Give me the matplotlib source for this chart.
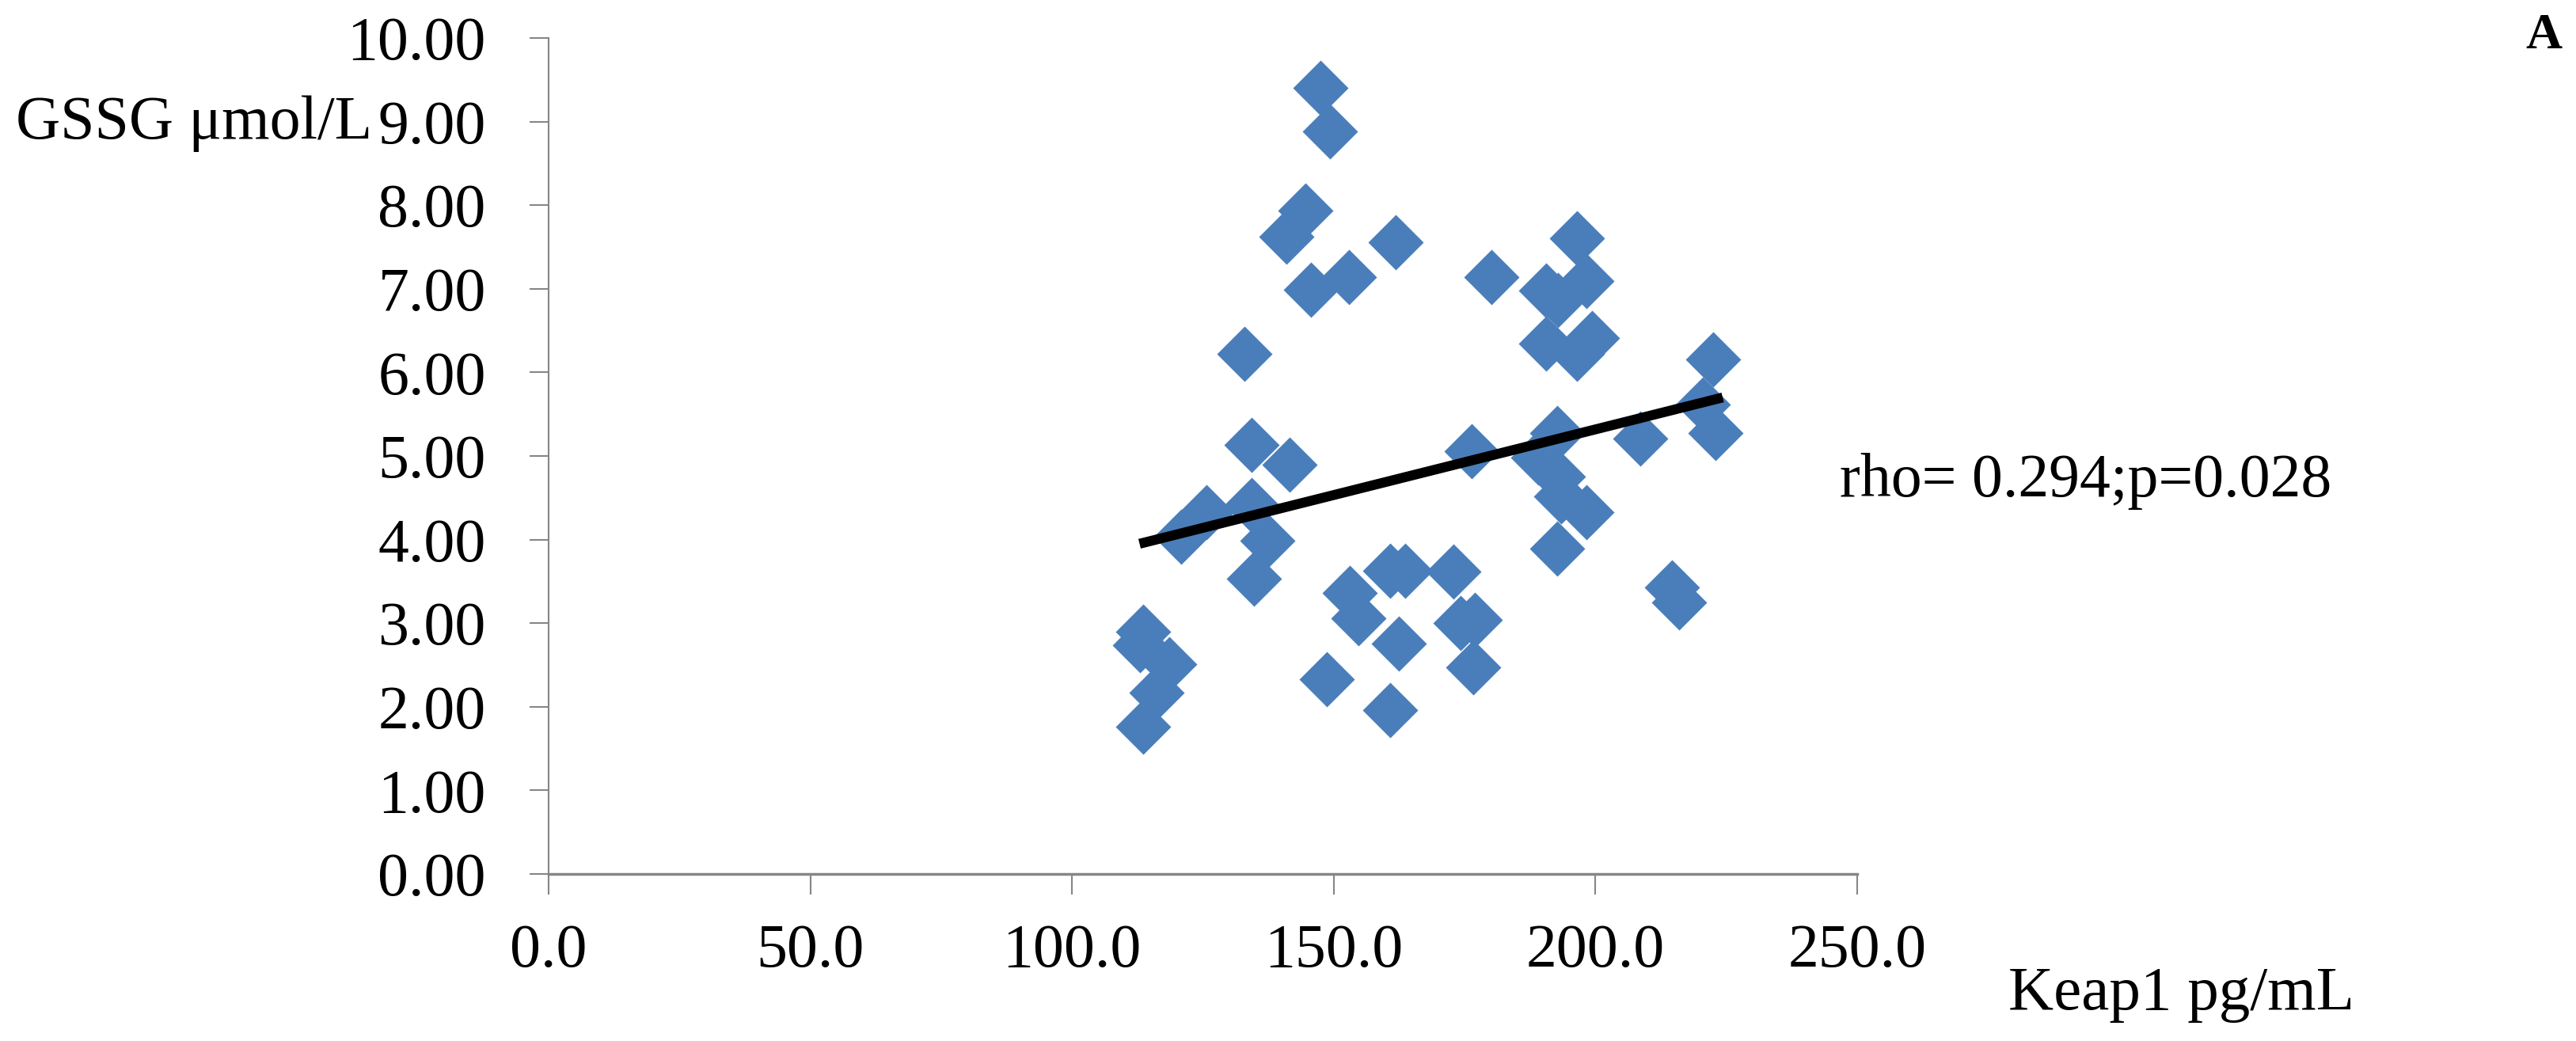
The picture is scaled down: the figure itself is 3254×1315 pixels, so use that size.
import matplotlib
matplotlib.use('Agg')
import matplotlib.pyplot as plt

plt.rcParams['font.family'] = ['Liberation Serif', 'DejaVu Serif']

# Keap1 (pg/mL) vs GSSG (umol/L)
keap1 = [147.4, 149.2, 144.6, 140.9, 161.9, 145.6, 152.9, 180.1, 132.9,
         196.5, 190.5, 198.3, 192.9, 190.5, 199.4, 196.5, 222.5, 220.5,
         222.9, 208.6, 192.7, 189.0, 192.9, 193.5, 198.3, 192.7, 214.6,
         215.9, 176.4, 134.3, 141.5, 125.7, 120.9, 134.3, 137.3, 134.8,
         113.6, 113.0, 118.5, 116.2, 113.6, 153.0, 154.7, 160.7, 163.7,
         172.8, 174.2, 176.9, 176.6, 162.5, 148.6, 160.7]
gssg = [9.40, 8.88, 7.94, 7.62, 7.56, 6.99, 7.14, 7.14, 6.22,
        7.60, 6.98, 7.09, 6.87, 6.34, 6.41, 6.22, 6.16, 5.62,
        5.27, 5.21, 5.27, 4.98, 4.75, 4.52, 4.33, 3.89, 3.43,
        3.25, 5.06, 5.13, 4.90, 4.33, 4.03, 4.41, 3.99, 3.53,
        2.90, 2.74, 2.51, 2.17, 1.76, 3.36, 3.06, 3.63, 3.63,
        3.62, 3.00, 3.04, 2.47, 2.76, 2.33, 1.96]

# linear trend line end points
trend_x = [112.9, 224.3]
trend_y = [3.95, 5.70]

xticks = [0, 50, 100, 150, 200, 250]
yticks = list(range(0, 11))

W, H = 3255, 1315
fig = plt.figure(figsize=(W / 100, H / 100), dpi=100)
ax = fig.add_axes([693 / W, 1 - 1104 / H, (2346 - 693) / W, (1104 - 48) / H])

ax.scatter(keap1, gssg, marker='D', s=1270, color='#4A7EBB', linewidths=0, zorder=2)
ax.plot(trend_x, trend_y, color='black', lw=9, solid_capstyle='butt', zorder=3)

ax.set_xlim(0, 250)
ax.set_ylim(0, 10)
ax.set_xticks(xticks)
ax.set_xticklabels(['%.1f' % v for v in xticks])
ax.set_yticks(yticks)
ax.set_yticklabels(['%.2f' % v for v in yticks])

for s in ['top', 'right']:
    ax.spines[s].set_visible(False)
ax.spines['left'].set_color('#868686')
ax.spines['left'].set_linewidth(1.5)
ax.spines['bottom'].set_color('#868686')
ax.spines['bottom'].set_linewidth(2.5)

ax.tick_params(axis='both', direction='out', color='#868686', width=1.5, labelsize=56)
ax.tick_params(axis='x', length=19, pad=26)
ax.tick_params(axis='y', length=17, pad=40)

fig.text(20 / W, 1 - 175 / H, 'GSSG μmol/L', fontsize=56, ha='left', va='baseline')
fig.text(2324 / W, 1 - 627 / H, 'rho= 0.294;p=0.028', fontsize=56, ha='left', va='baseline')
fig.text(2537 / W, 1 - 1275 / H, 'Keap1 pg/mL', fontsize=57, ha='left', va='baseline')
fig.text(3213 / W, 1 - 46 / H, 'A', fontsize=46, fontweight='bold', ha='center', va='center')

fig.savefig('out.png', dpi=100)
